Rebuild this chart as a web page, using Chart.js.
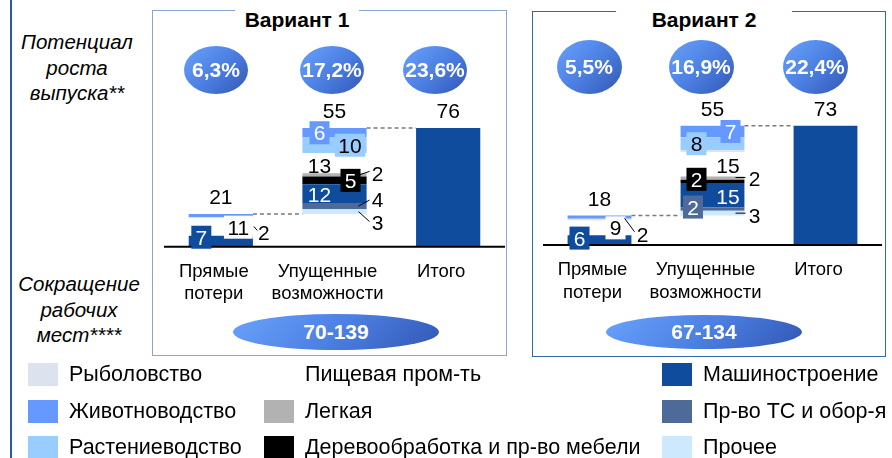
<!DOCTYPE html>
<html lang="ru">
<head>
<meta charset="utf-8">
<title>Варианты</title>
<script src="https://cdn.jsdelivr.net/npm/chart.js@4.4.1/dist/chart.umd.min.js"></script>
<style>
  html, body { margin: 0; padding: 0; background: #fff; }
  #page { position: relative; width: 892px; height: 458px; overflow: hidden;
          font-family: "Liberation Sans", Arial, sans-serif; color: #000; }
  canvas { position: absolute; left: 0; top: 0; }
  .abs { position: absolute; white-space: pre; }
  .c { transform: translate(-50%, -50%); text-align: center; }
  .side { font-style: italic; font-size: 20.5px; line-height: 25.5px; }
  .title { font-weight: bold; font-size: 21px; }
  .bubble { position: absolute; border-radius: 50%; color: #fff; font-weight: bold;
            background: linear-gradient(135deg, #69a2fb 0%, #4c80e3 50%, #3257b5 100%);
            display: flex; align-items: center; justify-content: center; overflow: hidden; }
  .panel { position: absolute; border: 1.5px solid; box-sizing: border-box; }
  .gap { position: absolute; background: #fff; height: 6px; }
  .leg-sw { position: absolute; width: 30px; height: 23px; }
  .leg-tx { position: absolute; font-size: 21.5px; line-height: 23px; }
</style>
</head>
<body>
<div id="page">
  <div class="abs" style="left:9.5px;top:0;width:2.5px;height:458px;background:#2a5ba8"></div>

  <div class="panel" style="left:152px;top:10px;width:355px;height:346px;border-color:#8aa5d1"></div>
  <div class="gap" style="left:235px;top:7px;width:124px"></div>
  <div class="panel" style="left:532px;top:11px;width:354px;height:346px;border-color:#3567ad"></div>
  <div class="gap" style="left:616px;top:8px;width:176px"></div>

  <div class="abs c title" style="left:297px;top:20px">Вариант 1</div>
  <div class="abs c title" style="left:704px;top:20px">Вариант 2</div>

  <div class="abs c side" style="left:77px;top:67px">Потенциал
роста
выпуска**</div>
  <div class="abs c side" style="left:79px;top:309px">Сокращение
рабочих
мест****</div>

  <canvas id="chart1" width="892" height="458"></canvas>
  <canvas id="chart2" width="892" height="458"></canvas>
  <div id="extras"></div>
</div>

<script>
var categoryLabels = [['Прямые', 'потери'], ['Упущенные', 'возможности'], ['Итого']];

var sectorKeys   = ['ryba', 'zhiv', 'rast', 'pishch', 'legk', 'derevo', 'mash', 'ts', 'prochee'];
var sectorNames  = ['Рыболовство', 'Животноводство', 'Растениеводство', 'Пищевая пром-ть', 'Легкая',
                    'Деревообработка и пр-во мебели', 'Машиностроение', 'Пр-во ТС и обор-я', 'Прочее'];
var sectorColors = ['#dce3ee', '#6699ff', '#99ccff', '#ffffff', '#b2b2b2', '#000000', '#0f4c9e', '#4d6a99', '#cce9fe'];
var stackOrder   = ['prochee', 'ts', 'mash', 'derevo', 'legk', 'pishch', 'ryba', 'rast', 'zhiv'];
var totalColor   = '#0f4c9e';

// Вариант 1
var v1Offset  = [0, 21, 0];
var v1Prochee = [0, 3, 0];
var v1Ts      = [0, 4, 0];
var v1Mash    = [7, 12, 0];
var v1Derevo  = [0, 5, 0];
var v1Legk    = [0, 2, 0];
var v1Pishch  = [11, 13, 0];
var v1Ryba    = [1, 0, 0];
var v1Rast    = [0, 10, 0];
var v1Zhiv    = [2, 6, 0];
var v1Total   = [0, 0, 76];
var v1Sums    = [21, 55, 76];
var v1Growth  = ['6,3%', '17,2%', '23,6%'];
var v1Jobs    = '70-139';

// Вариант 2
var v2Offset  = [0, 18, 0];
var v2Prochee = [0, 3, 0];
var v2Ts      = [0, 2, 0];
var v2Mash    = [6, 15, 0];
var v2Derevo  = [0, 2, 0];
var v2Legk    = [0, 2, 0];
var v2Pishch  = [9, 15, 0];
var v2Ryba    = [1, 1, 0];
var v2Rast    = [0, 8, 0];
var v2Zhiv    = [2, 7, 0];
var v2Total   = [0, 0, 73];
var v2Sums    = [18, 55, 73];
var v2Growth  = ['5,5%', '16,9%', '22,4%'];
var v2Jobs    = '67-134';

// where the value tags sit, relative to the middle of their segment
var v1Tags = [
  { key: 'mash',    cat: 0, dx: -19.5, dy: -4,  box: true,  ink: '#fff' },
  { key: 'pishch',  cat: 0, dx: 17.5,  dy: 0,   box: true,  ink: '#000' },
  { key: 'zhiv',    cat: 0, dx: 43,    dy: 17.5, ink: '#000', lead: [33, 11, 36.5, 15] },
  { key: 'zhiv',    cat: 1, dx: -15,   dy: 0,   box: true,  ink: '#fff' },
  { key: 'rast',    cat: 1, dx: 15.5,  dy: 0,   box: true,  ink: '#000' },
  { key: 'pishch',  cat: 1, dx: -15,   dy: 2,   ink: '#000' },
  { key: 'legk',    cat: 1, dx: 43,    dy: -1,  ink: '#000', lead: [25, 0, 35, -3.5] },
  { key: 'derevo',  cat: 1, dx: 16,    dy: 0,   box: true,  ink: '#fff' },
  { key: 'mash',    cat: 1, dx: -15,   dy: 1,   ink: '#fff' },
  { key: 'ts',      cat: 1, dx: 43,    dy: -7,  ink: '#000', lead: [24, 0, 35, -6] },
  { key: 'prochee', cat: 1, dx: 43,    dy: 11,  ink: '#000', lead: [24, 0, 35, 10] }
];
var v2Tags = [
  { key: 'mash',    cat: 0, dx: -20,   dy: -2,  box: true,  ink: '#fff' },
  { key: 'pishch',  cat: 0, dx: 16,    dy: 0,   box: true,  ink: '#000' },
  { key: 'zhiv',    cat: 0, dx: 43,    dy: 17,  ink: '#000', lead: [25, 1, 35, 14.5] },
  { key: 'prochee', cat: 1, dx: 42,    dy: 2.5, ink: '#000', lead: [23, 0, 33, 0] },
  { key: 'ts',      cat: 1, dx: -19.5, dy: -2,  box: true,  ink: '#fff' },
  { key: 'mash',    cat: 1, dx: 15.5,  dy: 1.5, ink: '#fff' },
  { key: 'derevo',  cat: 1, dx: -16,   dy: -2,  box: true,  ink: '#fff' },
  { key: 'legk',    cat: 1, dx: 42,    dy: 0,   ink: '#000', lead: [23, -0.5, 33, -0.5] },
  { key: 'pishch',  cat: 1, dx: 15.5,  dy: 1,   ink: '#000' },
  { key: 'rast',    cat: 1, dx: -16,   dy: 0,   box: true,  ink: '#000' },
  { key: 'zhiv',    cat: 1, dx: 18,    dy: 0,   box: true,  ink: '#fff' }
];

var FONT = '"Liberation Sans", Arial, sans-serif';

var waterfallPlugin = {
  id: 'waterfall',
  afterDatasetsDraw: function (chart) {
    var o = chart.options.plugins.waterfall;
    var ctx = chart.ctx, ys = chart.scales.y, area = chart.chartArea;
    var y0 = ys.getPixelForValue(0);
    var bars = chart.getDatasetMeta(0).data;
    ctx.save();

    ctx.strokeStyle = '#000';
    ctx.lineWidth = 2;
    ctx.beginPath();
    ctx.moveTo(area.left, y0);
    ctx.lineTo(area.right, y0);
    ctx.stroke();

    // dashed steps between columns
    ctx.strokeStyle = '#7a7a7a';
    ctx.lineWidth = 1.5;
    ctx.setLineDash([4, 3]);
    for (var i = 0; i < bars.length - 1; i++) {
      var lvl = ys.getPixelForValue(o.offset[i] + o.sums[i]);
      ctx.beginPath();
      ctx.moveTo(bars[i].x + bars[i].width / 2, lvl);
      ctx.lineTo(bars[i + 1].x - bars[i + 1].width / 2, lvl);
      ctx.stroke();
    }
    ctx.setLineDash([]);

    ctx.font = '21px ' + FONT;
    ctx.textAlign = 'center';
    ctx.textBaseline = 'alphabetic';

    // column totals
    ctx.fillStyle = '#000';
    bars.forEach(function (b, i) {
      var top = ys.getPixelForValue(o.offset[i] + o.sums[i]);
      ctx.fillText(String(o.sums[i]), b.x, top - 17.5 + 7.5);
    });

    // segment tags
    o.tags.forEach(function (t) {
      var di = chart.data.datasets.findIndex(function (d) { return d.key === t.key; });
      var ds = chart.data.datasets[di];
      var el = chart.getDatasetMeta(di).data[t.cat];
      var cx = el.x, cy = (el.y + el.base) / 2;
      var tx = cx + t.dx, ty = cy + t.dy;
      var txt = String(ds.data[t.cat]);
      if (t.lead) {
        ctx.strokeStyle = '#000';
        ctx.lineWidth = 1;
        ctx.beginPath();
        ctx.moveTo(cx + t.lead[0], cy + t.lead[1]);
        ctx.lineTo(cx + t.lead[2], cy + t.lead[3]);
        ctx.stroke();
      }
      if (t.box) {
        var w = Math.max(ctx.measureText(txt).width + 7, 20);
        ctx.fillStyle = ds.backgroundColor;
        ctx.fillRect(tx - w / 2, ty - 11.5, w, 23);
      }
      ctx.fillStyle = t.ink;
      ctx.fillText(txt, tx, ty + 7.5);
    });

    // category names under the axis
    ctx.font = '18.5px ' + FONT;
    ctx.fillStyle = '#000';
    bars.forEach(function (b, i) {
      categoryLabels[i].forEach(function (line, k) {
        ctx.fillText(line, b.x - 7, y0 + 30 + k * 22.5);
      });
    });
    ctx.restore();
  }
};

function buildChart(canvasId, v) {
  var datasets = [{ key: 'offset', label: 'offset', data: v.offset, backgroundColor: 'rgba(0,0,0,0)', stack: 'w' }];
  stackOrder.forEach(function (k) {
    var i = sectorKeys.indexOf(k);
    datasets.push({ key: k, label: sectorNames[i], data: v.series[k], backgroundColor: sectorColors[i], stack: 'w' });
  });
  datasets.push({ key: 'total', label: 'Итого', data: v.total, backgroundColor: totalColor, stack: 'w' });

  return new Chart(document.getElementById(canvasId), {
    type: 'bar',
    data: { labels: categoryLabels.map(function (l) { return l.join(' '); }), datasets: datasets },
    options: {
      responsive: false,
      animation: false,
      layout: { padding: v.pad },
      datasets: { bar: { categoryPercentage: 1, barPercentage: 0.565, borderWidth: 0 } },
      plugins: {
        legend: { display: false },
        tooltip: { enabled: false },
        waterfall: { offset: v.offset, sums: v.sums, tags: v.tags }
      },
      scales: {
        x: { display: false, stacked: true },
        y: { display: false, stacked: true, min: 0, max: 80 }
      }
    },
    plugins: [waterfallPlugin]
  });
}

buildChart('chart1', {
  offset: v1Offset, total: v1Total, sums: v1Sums, tags: v1Tags,
  series: { prochee: v1Prochee, ts: v1Ts, mash: v1Mash, derevo: v1Derevo, legk: v1Legk,
            pishch: v1Pishch, ryba: v1Ryba, rast: v1Rast, zhiv: v1Zhiv },
  pad: { left: 164, right: 387, top: 121.8, bottom: 211.3 }
});
buildChart('chart2', {
  offset: v2Offset, total: v2Total, sums: v2Sums, tags: v2Tags,
  series: { prochee: v2Prochee, ts: v2Ts, mash: v2Mash, derevo: v2Derevo, legk: v2Legk,
            pishch: v2Pishch, ryba: v2Ryba, rast: v2Rast, zhiv: v2Zhiv },
  pad: { left: 543, right: 10, top: 114.3, bottom: 213 }
});

// bubbles, ovals and legend
var extras = document.getElementById('extras');
function addBubble(cx, cy, w, h, text, size) {
  var d = document.createElement('div');
  d.className = 'bubble';
  d.style.cssText = 'left:' + (cx - w / 2) + 'px;top:' + (cy - h / 2) + 'px;width:' + w + 'px;height:' + h + 'px;font-size:' + size + 'px';
  d.textContent = text;
  extras.appendChild(d);
}
[216, 332, 435].forEach(function (x, i) { addBubble(x, 70, 64, 48, v1Growth[i], 21); });
[589, 701, 815].forEach(function (x, i) { addBubble(x, 67, 65, 54, v2Growth[i], 21); });
addBubble(336, 332, 206, 36, v1Jobs, 21);
addBubble(704, 332, 196, 34, v2Jobs, 21);

var legCols = [28, 264, 662];
var legRows = [374.5, 411, 447];
sectorNames.forEach(function (name, i) {
  var col = Math.floor(i / 3), row = i % 3;
  var sw = document.createElement('div');
  sw.className = 'leg-sw';
  sw.style.cssText = 'left:' + legCols[col] + 'px;top:' + (legRows[row] - 11.5) + 'px;background:' + sectorColors[i];
  extras.appendChild(sw);
  var tx = document.createElement('div');
  tx.className = 'leg-tx abs';
  tx.style.cssText = 'left:' + (legCols[col] + 41) + 'px;top:' + (legRows[row] - 11.5) + 'px';
  tx.textContent = name;
  extras.appendChild(tx);
});
</script>
</body>
</html>
